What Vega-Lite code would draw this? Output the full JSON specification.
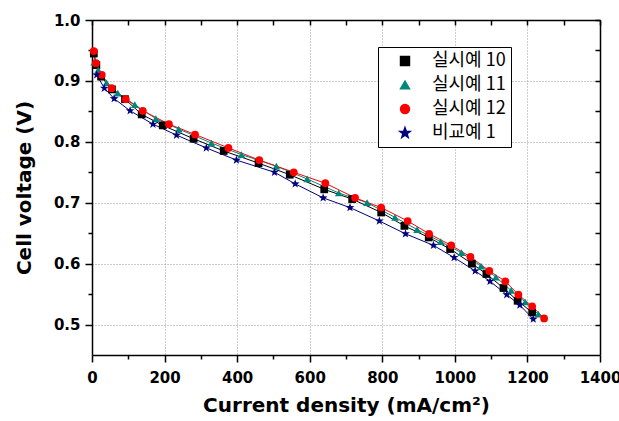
{
  "$schema": "https://vega.github.io/schema/vega-lite/v6.json",
  "width": 508,
  "height": 335,
  "autosize": {"type": "none"},
  "padding": {"left": 92, "top": 20, "right": 19, "bottom": 66},
  "background": "white",
  "config": {
    "view": {"stroke": null},
    "axis": {
      "domainColor": "black",
      "domainWidth": 1.5,
      "tickColor": "black",
      "tickWidth": 1.5,
      "labelFont": "DejaVu Sans",
      "labelFontWeight": "bold",
      "labelFontSize": 15,
      "labelColor": "black",
      "titleFont": "DejaVu Sans",
      "titleFontWeight": "bold",
      "titleFontSize": 20,
      "titleColor": "black",
      "gridColor": "#9a9a9a",
      "gridDash": [1, 2],
      "gridWidth": 1,
      "labelOverlap": false,
      "labelFlush": false
    }
  },
  "data": {
    "values": [
      {"series": "실시예 10", "current": 5, "voltage": 0.945},
      {"series": "실시예 10", "current": 12, "voltage": 0.926},
      {"series": "실시예 10", "current": 25, "voltage": 0.907},
      {"series": "실시예 10", "current": 55, "voltage": 0.886},
      {"series": "실시예 10", "current": 91, "voltage": 0.870},
      {"series": "실시예 10", "current": 137, "voltage": 0.845},
      {"series": "실시예 10", "current": 195, "voltage": 0.827},
      {"series": "실시예 10", "current": 280, "voltage": 0.805},
      {"series": "실시예 10", "current": 363, "voltage": 0.785},
      {"series": "실시예 10", "current": 459, "voltage": 0.765},
      {"series": "실시예 10", "current": 545, "voltage": 0.746},
      {"series": "실시예 10", "current": 640, "voltage": 0.722},
      {"series": "실시예 10", "current": 717, "voltage": 0.706},
      {"series": "실시예 10", "current": 797, "voltage": 0.684},
      {"series": "실시예 10", "current": 861, "voltage": 0.662},
      {"series": "실시예 10", "current": 928, "voltage": 0.643},
      {"series": "실시예 10", "current": 987, "voltage": 0.624},
      {"series": "실시예 10", "current": 1047, "voltage": 0.600},
      {"series": "실시예 10", "current": 1087, "voltage": 0.583},
      {"series": "실시예 10", "current": 1134, "voltage": 0.560},
      {"series": "실시예 10", "current": 1173, "voltage": 0.539},
      {"series": "실시예 10", "current": 1213, "voltage": 0.520},
      {"series": "실시예 11", "current": 6, "voltage": 0.931},
      {"series": "실시예 11", "current": 17, "voltage": 0.918},
      {"series": "실시예 11", "current": 40, "voltage": 0.897},
      {"series": "실시예 11", "current": 71, "voltage": 0.880},
      {"series": "실시예 11", "current": 118, "voltage": 0.861},
      {"series": "실시예 11", "current": 176, "voltage": 0.838},
      {"series": "실시예 11", "current": 239, "voltage": 0.821},
      {"series": "실시예 11", "current": 329, "voltage": 0.798},
      {"series": "실시예 11", "current": 412, "voltage": 0.779},
      {"series": "실시예 11", "current": 508, "voltage": 0.760},
      {"series": "실시예 11", "current": 593, "voltage": 0.739},
      {"series": "실시예 11", "current": 680, "voltage": 0.716},
      {"series": "실시예 11", "current": 758, "voltage": 0.700},
      {"series": "실시예 11", "current": 835, "voltage": 0.676},
      {"series": "실시예 11", "current": 896, "voltage": 0.656},
      {"series": "실시예 11", "current": 961, "voltage": 0.636},
      {"series": "실시예 11", "current": 1018, "voltage": 0.618},
      {"series": "실시예 11", "current": 1072, "voltage": 0.596},
      {"series": "실시예 11", "current": 1113, "voltage": 0.578},
      {"series": "실시예 11", "current": 1155, "voltage": 0.556},
      {"series": "실시예 11", "current": 1194, "voltage": 0.537},
      {"series": "실시예 11", "current": 1230, "voltage": 0.517},
      {"series": "실시예 12", "current": 5, "voltage": 0.949},
      {"series": "실시예 12", "current": 11, "voltage": 0.929},
      {"series": "실시예 12", "current": 27, "voltage": 0.910},
      {"series": "실시예 12", "current": 54, "voltage": 0.888},
      {"series": "실시예 12", "current": 93, "voltage": 0.870},
      {"series": "실시예 12", "current": 140, "voltage": 0.851},
      {"series": "실시예 12", "current": 212, "voltage": 0.829},
      {"series": "실시예 12", "current": 284, "voltage": 0.812},
      {"series": "실시예 12", "current": 376, "voltage": 0.790},
      {"series": "실시예 12", "current": 461, "voltage": 0.770},
      {"series": "실시예 12", "current": 556, "voltage": 0.750},
      {"series": "실시예 12", "current": 643, "voltage": 0.732},
      {"series": "실시예 12", "current": 725, "voltage": 0.708},
      {"series": "실시예 12", "current": 797, "voltage": 0.692},
      {"series": "실시예 12", "current": 870, "voltage": 0.670},
      {"series": "실시예 12", "current": 929, "voltage": 0.649},
      {"series": "실시예 12", "current": 990, "voltage": 0.630},
      {"series": "실시예 12", "current": 1043, "voltage": 0.611},
      {"series": "실시예 12", "current": 1095, "voltage": 0.588},
      {"series": "실시예 12", "current": 1139, "voltage": 0.571},
      {"series": "실시예 12", "current": 1175, "voltage": 0.549},
      {"series": "실시예 12", "current": 1213, "voltage": 0.530},
      {"series": "실시예 12", "current": 1246, "voltage": 0.510},
      {"series": "비교예 1", "current": 13, "voltage": 0.910},
      {"series": "비교예 1", "current": 34, "voltage": 0.888},
      {"series": "비교예 1", "current": 61, "voltage": 0.871},
      {"series": "비교예 1", "current": 105, "voltage": 0.851},
      {"series": "비교예 1", "current": 168, "voltage": 0.829},
      {"series": "비교예 1", "current": 233, "voltage": 0.811},
      {"series": "비교예 1", "current": 315, "voltage": 0.790},
      {"series": "비교예 1", "current": 398, "voltage": 0.770},
      {"series": "비교예 1", "current": 503, "voltage": 0.750},
      {"series": "비교예 1", "current": 560, "voltage": 0.731},
      {"series": "비교예 1", "current": 637, "voltage": 0.708},
      {"series": "비교예 1", "current": 711, "voltage": 0.692},
      {"series": "비교예 1", "current": 792, "voltage": 0.670},
      {"series": "비교예 1", "current": 864, "voltage": 0.649},
      {"series": "비교예 1", "current": 941, "voltage": 0.630},
      {"series": "비교예 1", "current": 998, "voltage": 0.610},
      {"series": "비교예 1", "current": 1056, "voltage": 0.588},
      {"series": "비교예 1", "current": 1097, "voltage": 0.571},
      {"series": "비교예 1", "current": 1143, "voltage": 0.549},
      {"series": "비교예 1", "current": 1179, "voltage": 0.532},
      {"series": "비교예 1", "current": 1216, "voltage": 0.509}
    ]
  },
  "layer": [
    {
      "mark": {"type": "line", "strokeWidth": 1},
      "encoding": {
        "x": {
          "field": "current", "type": "quantitative",
          "scale": {"domain": [0, 1400], "nice": false, "zero": false},
          "axis": {
            "orient": "bottom",
            "values": [0, 100, 200, 300, 400, 500, 600, 700, 800, 900, 1000, 1100, 1200, 1300, 1400],
            "labelExpr": "datum.value % 200 === 0 ? datum.label : ''",
            "format": "d",
            "tickSize": {"condition": {"test": "datum.value % 200 === 0", "value": 7}, "value": 4},
            "grid": true,
            "gridOpacity": {"condition": {"test": "datum.value % 200 === 0", "value": 1}, "value": 0},
            "labelPadding": 8,
            "titlePadding": 10,
            "title": "Current density (mA/cm²)"
          }
        },
        "y": {
          "field": "voltage", "type": "quantitative",
          "scale": {"domain": [0.45, 1.0], "nice": false, "zero": false},
          "axis": {
            "orient": "left",
            "values": [0.5, 0.55, 0.6, 0.65, 0.7, 0.75, 0.8, 0.85, 0.9, 0.95, 1.0],
            "labelExpr": "round(datum.value * 100) % 10 === 0 ? format(datum.value, '.1f') : ''",
            "tickSize": {"condition": {"test": "round(datum.value * 100) % 10 === 0", "value": 7}, "value": 4},
            "grid": true,
            "gridOpacity": {"condition": {"test": "round(datum.value * 100) % 10 === 0", "value": 1}, "value": 0},
            "labelPadding": 5,
            "titlePadding": 19,
            "title": "Cell voltage (V)"
          }
        },
        "color": {
          "field": "series", "type": "nominal",
          "scale": {
            "domain": ["실시예 10", "실시예 11", "실시예 12", "비교예 1"],
            "range": ["#000000", "#00877c", "#ff0000", "#000080"]
          },
          "legend": {
            "orient": "none",
            "legendX": 286,
            "legendY": 27,
            "title": null,
            "symbolSize": 80,
            "symbolOffset": 13,
            "labelOffset": 18,
            "labelFont": "Noto Sans CJK KR",
            "labelFontSize": 18,
            "labelColor": "black",
            "padding": 5,
            "rowPadding": 6,
            "strokeColor": "black",
            "fillColor": "white"
          }
        }
      }
    },
    {
      "mark": {"type": "point", "filled": true, "size": 60, "opacity": 1},
      "encoding": {
        "x": {"field": "current", "type": "quantitative", "axis": null},
        "y": {"field": "voltage", "type": "quantitative", "axis": null},
        "color": {"field": "series", "type": "nominal"},
        "shape": {
          "field": "series", "type": "nominal",
          "scale": {
            "domain": ["실시예 10", "실시예 11", "실시예 12", "비교예 1"],
            "range": ["square", "triangle-up", "circle", "M0,-1.2L0.282,-0.388L1.141,-0.371L0.457,0.148L0.705,0.971L0,0.48L-0.705,0.971L-0.457,0.148L-1.141,-0.371L-0.282,-0.388Z"]
          },
          "legend": null
        }
      }
    },
    {
      "mark": {"type": "point", "opacity": 0},
      "encoding": {
        "x": {
          "field": "current", "type": "quantitative",
          "axis": {
            "orient": "top",
            "values": [0, 100, 200, 300, 400, 500, 600, 700, 800, 900, 1000, 1100, 1200, 1300, 1400],
            "labels": false,
            "tickSize": -5,
            "grid": false,
            "title": null
          }
        },
        "y": {
          "field": "voltage", "type": "quantitative",
          "axis": {
            "orient": "right",
            "values": [0.5, 0.55, 0.6, 0.65, 0.7, 0.75, 0.8, 0.85, 0.9, 0.95, 1.0],
            "labels": false,
            "tickSize": -5,
            "grid": false,
            "title": null
          }
        }
      }
    }
  ],
  "resolve": {"axis": {"x": "independent", "y": "independent"}}
}
